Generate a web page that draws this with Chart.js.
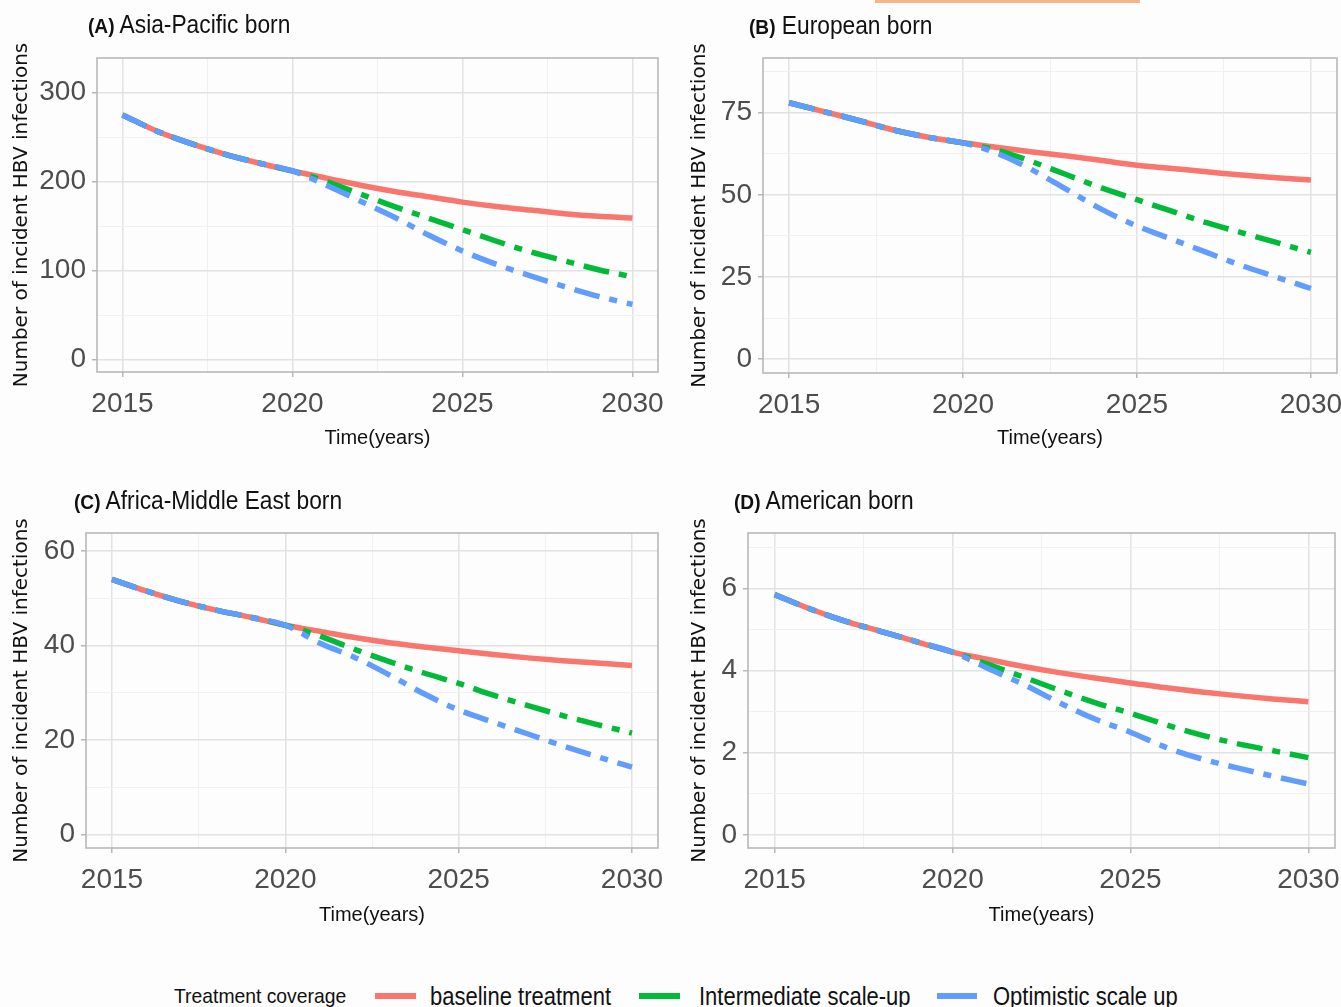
<!DOCTYPE html>
<html>
<head>
<meta charset="utf-8">
<script src="https://cdn.jsdelivr.net/npm/chart.js@4.4.0/dist/chart.umd.min.js"></script>
<style>
  body { margin: 0; background: #fdfdfd; width: 1341px; height: 1007px; position: relative; overflow: hidden;
         font-family: 'Liberation Sans', Arial, sans-serif; }
  canvas { position: absolute; }
  .ttl { position: absolute; font-size: 25px; line-height: 30px; color: #111; white-space: nowrap;
         transform: scaleX(0.91); transform-origin: 0 0; }
  .ttl b { font-weight: bold; font-size: 21px; }
  .leg { position: absolute; top: 981px; height: 30px; line-height: 30px; white-space: nowrap; color: #111;
         transform: scaleX(0.88); transform-origin: 0 0; }
  .sw { position: absolute; height: 6px; top: 993px; }
  .stripe { position: absolute; left: 875px; top: 0; width: 265px; height: 3px; background: #f3b68a; }
</style>
</head>
<body>
<div class="stripe"></div>

<canvas id="pA" width="670" height="460" style="left:0;top:0"></canvas>
<canvas id="pB" width="671" height="460" style="left:670px;top:0"></canvas>
<canvas id="pC" width="670" height="470" style="left:0;top:470px"></canvas>
<canvas id="pD" width="671" height="470" style="left:670px;top:470px"></canvas>

<div class="ttl" style="left:88px;top:9px"><b>(A)</b> Asia-Pacific born</div>
<div class="ttl" style="left:749px;top:10px"><b>(B)</b> European born</div>
<div class="ttl" style="left:74px;top:485px"><b>(C)</b> Africa-Middle East born</div>
<div class="ttl" style="left:734px;top:485px"><b>(D)</b> American born</div>

<div class="leg" style="left:174px;font-size:21px;transform:scaleX(0.92)">Treatment coverage</div>
<div class="sw" style="left:375px;width:41px;background:#F8766D"></div>
<div class="leg" style="left:430px;font-size:25px" id="l0"></div>
<div class="sw" style="left:639px;width:41px;background:#00BA38"></div>
<div class="leg" style="left:699px;font-size:25px" id="l1"></div>
<div class="sw" style="left:937px;width:40px;background:#619CFF"></div>
<div class="leg" style="left:993px;font-size:25px" id="l2"></div>

<script>
// x axis
const years = [2015, 2016, 2017, 2018, 2019, 2020, 2021, 2022, 2023, 2024, 2025, 2026, 2027, 2028, 2029, 2030];
const xTicks = [2015, 2020, 2025, 2030];
const seriesLabels = ['baseline treatment', 'Intermediate scale-up', 'Optimistic scale up'];

// (A) Asia-Pacific born
const asiaBaseline     = [275, 257, 243, 231, 221, 212, 204, 196, 189, 183, 177, 172, 168, 164, 161, 159];
const asiaIntermediate = [275, 257, 243, 231, 221, 212, 200, 186, 172, 159, 146, 133, 121, 111, 101, 93];
const asiaOptimistic   = [275, 257, 243, 231, 221, 212, 196, 178, 160, 140, 122, 107, 94, 82, 71, 62];
const asiaTicks = [0, 100, 200, 300];

// (B) European born
const europeBaseline     = [78, 75.3, 72.6, 69.7, 67.5, 65.8, 64.4, 63, 61.8, 60.4, 59, 58, 57, 56, 55.2, 54.5];
const europeIntermediate = [78, 75.3, 72.6, 69.7, 67.5, 65.8, 63.5, 60, 56, 52, 48.5, 45, 41.5, 38.5, 35.5, 32.5];
const europeOptimistic   = [78, 75.3, 72.6, 69.7, 67.5, 65.8, 62.5, 57.5, 51.5, 45.5, 40.5, 36.5, 32.5, 28.5, 25, 21.5];
const europeTicks = [0, 25, 50, 75];

// (C) Africa-Middle East born
const africaBaseline     = [54, 51.5, 49.3, 47.5, 46, 44.3, 43, 41.7, 40.6, 39.7, 38.9, 38.1, 37.4, 36.8, 36.3, 35.8];
const africaIntermediate = [54, 51.5, 49.3, 47.5, 46, 44.3, 42, 39.2, 36.6, 34.2, 32, 29.5, 27.3, 25.2, 23.3, 21.5];
const africaOptimistic   = [54, 51.5, 49.3, 47.5, 46, 44.3, 40.5, 37.5, 33.8, 29.8, 26.4, 23.8, 21.3, 18.8, 16.5, 14.3];
const africaTicks = [0, 20, 40, 60];

// (D) American born
const americaBaseline     = [5.85, 5.5, 5.2, 4.95, 4.7, 4.45, 4.27, 4.1, 3.95, 3.82, 3.7, 3.58, 3.48, 3.39, 3.31, 3.24];
const americaIntermediate = [5.85, 5.5, 5.2, 4.95, 4.7, 4.45, 4.15, 3.84, 3.52, 3.22, 2.96, 2.68, 2.43, 2.22, 2.05, 1.88];
const americaOptimistic   = [5.85, 5.5, 5.2, 4.95, 4.7, 4.45, 4.05, 3.66, 3.22, 2.82, 2.5, 2.13, 1.85, 1.63, 1.43, 1.24];
const americaTicks = [0, 2, 4, 6];

seriesLabels.forEach((s, i) => { document.getElementById('l' + i).textContent = s; });

const COLORS = ['#F8766D', '#00BA38', '#619CFF'];
const SANS = "'Liberation Sans', Arial, sans-serif";
const YTITLE = 'Number of incident HBV infections';

// majors + the halfway minor lines ggplot draws
function withMinors(major, min, max) {
  const step = major[1] - major[0];
  const out = [];
  for (let v = major[0] - step / 2; v <= max; v += step / 2) {
    if (v >= min) out.push(v);
  }
  return out;
}

const panelBorder = {
  id: 'panelBorder',
  afterDatasetsDraw(chart) {
    const a = chart.chartArea, ctx = chart.ctx;
    ctx.save();
    ctx.strokeStyle = '#b8b8b8';
    ctx.lineWidth = 1.6;
    ctx.strokeRect(a.left, a.top, a.right - a.left, a.bottom - a.top);
    ctx.restore();
  }
};

function makePanel(id, g, yTicks, yMin, yMax, base, inter, opt) {
  const isMajorX = v => xTicks.includes(v);
  const isMajorY = v => yTicks.includes(v);
  const line = (label, data, i, dash, order) => ({
    label, data: years.map((x, k) => ({ x, y: data[k] })),
    borderColor: COLORS[i], borderWidth: 5.5, borderDash: dash, order,
    pointRadius: 0, cubicInterpolationMode: 'monotone', fill: false
  });
  new Chart(document.getElementById(id), {
    type: 'line',
    data: {
      datasets: [
        line(seriesLabels[0], base, 0, [], 3),
        line(seriesLabels[1], inter, 1, [26, 10, 8, 10], 2),
        line(seriesLabels[2], opt, 2, [26, 10, 8, 10], 1)
      ]
    },
    options: {
      responsive: false, animation: false, devicePixelRatio: 1,
      layout: { padding: { left: 0, top: g.padTop, right: g.padRight, bottom: 0 } },
      plugins: { legend: { display: false }, tooltip: { enabled: false } },
      scales: {
        x: {
          type: 'linear', min: 2014.25, max: 2030.75,
          afterBuildTicks: s => { s.ticks = withMinors(xTicks, 2014.25, 2030.75).map(v => ({ value: v })); },
          afterFit: s => { s.height = g.xH; s.paddingLeft = 0; s.paddingRight = 0; },
          grid: {
            color: c => isMajorX(c.tick.value) ? '#e2e2e2' : '#f0f0f0',
            lineWidth: c => isMajorX(c.tick.value) ? 1.5 : 1,
            tickColor: c => isMajorX(c.tick.value) ? '#b8b8b8' : 'rgba(0,0,0,0)',
            tickLength: 5
          },
          border: { display: false },
          ticks: {
            autoSkip: false, maxRotation: 0, padding: 10, color: '#4d4d4d',
            font: { family: SANS, size: 28 },
            callback: v => isMajorX(v) ? String(v) : ''
          },
          title: { display: true, text: 'Time(years)', color: '#111',
                   font: { family: SANS, size: 20 }, padding: { top: 0, bottom: g.xtPad } }
        },
        y: {
          min: yMin, max: yMax,
          afterBuildTicks: s => { s.ticks = withMinors(yTicks, yMin, yMax).map(v => ({ value: v })); },
          afterFit: s => { s.width = g.yW; s.paddingTop = 0; s.paddingBottom = 0; },
          grid: {
            color: c => isMajorY(c.tick.value) ? '#e2e2e2' : '#f0f0f0',
            lineWidth: c => isMajorY(c.tick.value) ? 1.5 : 1,
            tickColor: c => isMajorY(c.tick.value) ? '#b8b8b8' : 'rgba(0,0,0,0)',
            tickLength: 5
          },
          border: { display: false },
          ticks: {
            autoSkip: false, padding: 6, color: '#4d4d4d',
            font: { family: SANS, size: 28 },
            callback: v => isMajorY(v) ? String(v) : ''
          },
          title: { display: true, text: YTITLE, color: '#111',
                   font: { family: "'DejaVu Sans', sans-serif", size: 20 }, padding: { top: g.ytPad, bottom: 0 } }
        }
      }
    },
    plugins: [panelBorder]
  });
}

makePanel('pA', { yW: 97, padTop: 58, padRight: 12, xH: 88, xtPad: 10, ytPad: 10 },
  asiaTicks, -14, 339, asiaBaseline, asiaIntermediate, asiaOptimistic);
makePanel('pB', { yW: 93, padTop: 58, padRight: 4, xH: 87, xtPad: 10, ytPad: 18 },
  europeTicks, -4.2, 91.6, europeBaseline, europeIntermediate, europeOptimistic);
makePanel('pC', { yW: 86, padTop: 63, padRight: 12, xH: 92, xtPad: 13, ytPad: 10 },
  africaTicks, -2.8, 63.8, africaBaseline, africaIntermediate, africaOptimistic);
makePanel('pD', { yW: 78, padTop: 63, padRight: 6, xH: 92, xtPad: 13, ytPad: 18 },
  americaTicks, -0.32, 7.35, americaBaseline, americaIntermediate, americaOptimistic);
</script>
</body>
</html>
